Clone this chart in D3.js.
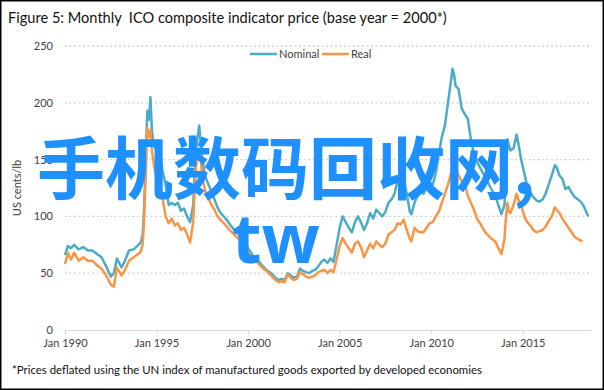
<!DOCTYPE html>
<html lang="en">
<head>
  <meta charset="UTF-8">
  <title>Monthly ICO composite indicator price</title>
  <style>
    body { margin: 0; background: #fff; font-family: Lato, "Liberation Sans", sans-serif; }
    svg { display: block; }
    .tick text { font-family: Lato, sans-serif; font-size: 11px; fill: #404040; }
  </style>
  <script src="https://d3js.org/d3.v7.min.js"></script>
</head>
<body>
  <svg id="chart"></svg>
  <script>
    // sampled months, values in US cents/lb
    const months = [
      "1990-01","1990-03","1990-05","1990-07","1990-10",
      "1991-01","1991-04","1991-07","1991-10",
      "1992-01","1992-04","1992-07","1992-09","1992-11",
      "1993-02","1993-04","1993-07","1993-10",
      "1994-02","1994-03","1994-04","1994-05","1994-06","1994-07","1994-08","1994-09","1994-10","1994-11","1994-12",
      "1995-01","1995-03","1995-05","1995-07","1995-09","1995-11",
      "1996-01","1996-03","1996-05","1996-07","1996-09","1996-11",
      "1997-01","1997-02","1997-03","1997-05","1997-06","1997-07","1997-09","1997-11",
      "1998-01","1998-03","1998-05","1998-07","1998-09","1998-11",
      "1999-01","1999-04","1999-07","1999-10",
      "2000-01","2000-04","2000-07","2000-10",
      "2001-01","2001-04","2001-07","2001-09","2001-11",
      "2002-01","2002-03","2002-05","2002-07","2002-09","2002-11",
      "2003-01","2003-03","2003-05","2003-07","2003-09","2003-11",
      "2004-01","2004-03","2004-05","2004-07","2004-09","2004-11",
      "2005-01","2005-03","2005-05","2005-07","2005-09","2005-11",
      "2006-01","2006-03","2006-05","2006-07","2006-09","2006-11",
      "2007-01","2007-03","2007-05","2007-07","2007-09","2007-11",
      "2008-01","2008-03","2008-05","2008-07","2008-09","2008-11","2008-12",
      "2009-02","2009-04","2009-06","2009-08","2009-10","2009-12",
      "2010-02","2010-04","2010-06","2010-08","2010-10","2010-12",
      "2011-02","2011-03","2011-04","2011-05","2011-07","2011-09","2011-11",
      "2012-01","2012-03","2012-05","2012-07","2012-09","2012-11",
      "2013-01","2013-04","2013-07","2013-09","2013-11",
      "2014-01","2014-02","2014-03","2014-04","2014-05","2014-07","2014-09","2014-10","2014-12",
      "2015-02","2015-04","2015-06","2015-08","2015-10","2015-12",
      "2016-02","2016-04","2016-06","2016-08","2016-10","2016-11",
      "2017-01","2017-03","2017-05","2017-07","2017-09","2017-11",
      "2018-01","2018-03","2018-04","2018-05","2018-07","2018-08"
    ];

    const nominal = [
      66, 74, 72, 75, 71,
      73, 70, 70, 67,
      64, 56, 47, 50, 63,
      55, 60, 70, 71,
      76, 78, 85, 110, 155, 193, 185, 205, 175, 165, 160,
      158, 161, 140, 128, 110, 112,
      110, 112, 105, 107, 100, 95,
      110, 140, 160, 180, 165, 150, 135, 128,
      122, 115, 108, 103, 100, 97,
      93, 88, 84, 80,
      72, 66, 62, 57,
      53, 50, 46, 44, 45,
      44, 50, 48, 46, 47, 54,
      52, 51, 50, 52, 53, 56,
      60, 62, 59, 63, 60, 75,
      90, 100, 95, 90, 86, 95,
      100, 95, 88, 94, 103, 98,
      106, 103, 100, 104, 112, 115,
      120, 132, 128, 132, 120, 104, 102,
      112, 118, 122, 120, 125, 130,
      128, 138, 155, 170, 180, 200,
      220, 230, 225, 215, 212, 195, 190,
      186, 168, 155, 148, 143, 138,
      133, 125, 118, 110, 102,
      110, 135, 168, 162, 158, 160, 172, 165, 150,
      138, 126, 121, 117, 114, 113,
      115, 120, 128, 136, 145, 144,
      136, 133, 124, 126, 121, 117,
      115, 113, 111, 109, 103, 100
    ];

    const real = [
      58, 68, 62, 68, 61,
      64, 61, 61, 57,
      54, 48, 40, 38, 55,
      48, 52, 61, 64,
      68, 70, 76, 100, 140, 178, 170, 176, 158, 148, 140,
      133, 128, 116, 100, 94, 98,
      92, 94, 88, 90, 84, 77,
      95, 125, 145, 160, 150, 135, 122, 116,
      110, 106, 100, 97, 94, 91,
      88, 84, 80, 75,
      69, 64, 60, 55,
      52, 48, 44, 42, 43,
      42, 49, 46, 44, 45, 51,
      49, 47, 46, 47, 48, 51,
      52, 53, 50, 53, 51, 62,
      74, 81, 76, 72, 68, 76,
      78, 73, 64, 70, 76, 72,
      78, 75, 73, 76, 84, 86,
      88, 94, 93, 97, 88, 80, 78,
      90, 87, 86, 86, 90, 94,
      95, 100, 104, 112, 120, 128,
      138, 144, 146, 142, 136, 131, 129,
      118, 112, 106, 98, 94, 89,
      85, 81, 78, 72, 67,
      80, 100, 112, 104, 103, 110, 120, 115, 110,
      100, 95, 92, 88, 86, 87,
      88, 91, 96, 100, 108, 106,
      103, 98, 94, 90, 86, 82,
      80, 79, 78, null, null, null
    ];

    const yTicks = [0, 50, 100, 150, 200, 250];
    const xTickYears = [1990, 1995, 2000, 2005, 2010, 2015];
    const seriesNames = ["Nominal", "Real"];
    const seriesColors = ["#4bacc6", "#f79646"];

    const W = 604, H = 390;
    const parseMonth = d3.timeParse("%Y-%m");

    const svg = d3.select("#chart")
      .attr("width", W)
      .attr("height", H);

    svg.append("rect")
      .attr("x", 0.75).attr("y", 0.75)
      .attr("width", W - 1.5).attr("height", H - 1.5)
      .attr("fill", "#fff")
      .attr("stroke", "#000")
      .attr("stroke-width", 1.5);

    const x = d3.scaleTime()
      .domain([new Date(1990, 0, 1), new Date(2018, 8, 15)])
      .range([65, 590.6]);

    const y = d3.scaleLinear()
      .domain([0, 250])
      .range([330, 46]);

    // dotted gridlines
    svg.append("g")
      .selectAll("line")
      .data(yTicks.filter(d => d > 0))
      .enter()
      .append("line")
      .attr("x1", x.range()[0])
      .attr("x2", x.range()[1])
      .attr("y1", d => y(d))
      .attr("y2", d => y(d))
      .attr("stroke", "#d0d0d0")
      .attr("stroke-width", 1.3)
      .attr("stroke-dasharray", "2,2.5");

    const yAxis = svg.append("g")
      .attr("transform", `translate(${x.range()[0]},0)`)
      .call(d3.axisLeft(y).tickValues(yTicks).tickSize(0).tickPadding(12));
    yAxis.select(".domain").remove();

    const xAxis = svg.append("g")
      .attr("transform", `translate(0,${y(0)})`)
      .call(d3.axisBottom(x)
        .tickValues(xTickYears.map(yr => new Date(yr, 0, 1)))
        .tickFormat(d3.timeFormat("Jan %Y"))
        .tickSize(5)
        .tickSizeOuter(0)
        .tickPadding(4));
    xAxis.select(".domain").attr("stroke", "#d9d9d9");
    xAxis.selectAll(".tick line").attr("stroke", "#d9d9d9");

    // y axis title
    svg.append("text")
      .attr("transform", `translate(21,${(y(0) + y(250)) / 2}) rotate(-90)`)
      .attr("text-anchor", "middle")
      .attr("font-size", 11)
      .attr("fill", "#404040")
      .text("US cents/lb");

    const dates = months.map(parseMonth);
    const series = [nominal, real].map((vals, i) => ({
      name: seriesNames[i],
      color: seriesColors[i],
      points: vals.map((v, j) => ({ date: dates[j], v: v }))
    }));

    const line = d3.line()
      .defined(d => d.v != null)
      .x(d => x(d.date))
      .y(d => y(d.v));

    svg.append("g")
      .selectAll("path")
      .data(series)
      .enter()
      .append("path")
      .attr("d", d => line(d.points))
      .attr("fill", "none")
      .attr("stroke", d => d.color)
      .attr("stroke-width", 2.5)
      .attr("stroke-linejoin", "round");

    // legend
    const legend = svg.append("g")
      .selectAll("g")
      .data(series)
      .enter()
      .append("g")
      .attr("transform", (d, i) => `translate(${250 + i * 72},54)`);
    legend.append("line")
      .attr("x1", 0).attr("x2", 27)
      .attr("stroke", d => d.color)
      .attr("stroke-width", 2.5);
    legend.append("text")
      .attr("x", 29)
      .attr("dy", "0.35em")
      .attr("font-size", 11)
      .attr("fill", "#404040")
      .text(d => d.name);

    svg.append("text")
      .attr("x", 8).attr("y", 23)
      .attr("font-size", 14.6)
      .attr("fill", "#111")
      .text("Figure 5: Monthly  ICO composite indicator price (base year = 2000*)")
      .style("white-space", "pre");

    svg.append("text")
      .attr("x", 12).attr("y", 374)
      .attr("font-size", 11.4)
      .attr("fill", "#111")
      .text("*Prices deflated using the UN index of manufactured goods exported by developed economies");

    // overlaid watermark
    const mark = svg.append("g")
      .attr("font-family", "'Noto Sans CJK SC', 'Noto Sans', sans-serif")
      .attr("font-weight", "bold")
      .attr("fill", "#1e90ff");
    mark.append("text")
      .attr("x", 37).attr("y", 194)
      .attr("font-size", 68)
      .text("手机数码回收网,");
    mark.append("text")
      .attr("x", 232).attr("y", 263)
      .attr("font-size", 68)
      .attr("font-family", "'Noto Sans', sans-serif")
      .text("tw");
  </script>
</body>
</html>
